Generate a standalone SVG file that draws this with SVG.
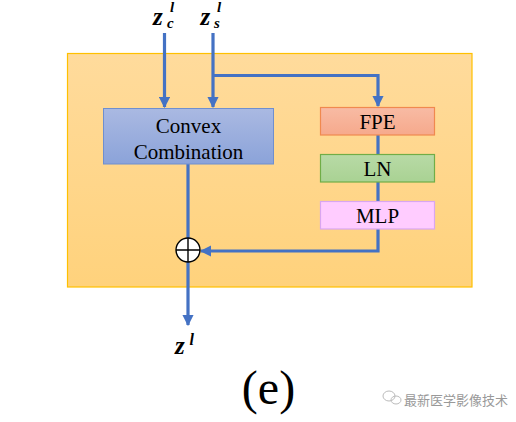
<svg xmlns="http://www.w3.org/2000/svg" width="516" height="422" viewBox="0 0 516 422">
<defs>
<linearGradient id="gBg" x1="0" y1="0" x2="0" y2="1"><stop offset="0" stop-color="#FFDB9C"/><stop offset="1" stop-color="#FFD27C"/></linearGradient>
<linearGradient id="gCC" x1="0" y1="0" x2="0" y2="1"><stop offset="0" stop-color="#AAB9E2"/><stop offset="1" stop-color="#8BA3D9"/></linearGradient>
<linearGradient id="gFPE" x1="0" y1="0" x2="0" y2="1"><stop offset="0" stop-color="#F8BBA4"/><stop offset="1" stop-color="#F6A98C"/></linearGradient>
<linearGradient id="gLN" x1="0" y1="0" x2="0" y2="1"><stop offset="0" stop-color="#B8DAA6"/><stop offset="1" stop-color="#A9D293"/></linearGradient>
<marker id="ah" viewBox="0 0 10 10" refX="9" refY="5" markerWidth="3.6" markerHeight="3.6" orient="auto" markerUnits="strokeWidth"><path d="M0,0 L10,5 L0,10 z" fill="#4472C4"/></marker>
</defs>
<style>
.lbl{font-family:"Liberation Serif","Times New Roman",serif;font-size:21px;fill:#000;text-anchor:middle}
.m{font-family:"Liberation Serif","DejaVu Serif",serif;font-weight:bold;font-style:italic;fill:#000}
.wire{fill:none;stroke:#4472C4;stroke-width:3.2}
</style>
<rect id="background" x="67.5" y="53.5" width="404.5" height="233.5" fill="url(#gBg)" stroke="#FFC000" stroke-width="1.2"/>
<g id="connectors">
<path class="wire" d="M164.5,33 V107" marker-end="url(#ah)"/>
<path class="wire" d="M213,33 V107" marker-end="url(#ah)"/>
<path class="wire" d="M213,75.5 H378 V106" marker-end="url(#ah)"/>
<path class="wire" d="M378,135 V154 M378,182 V201"/>
<path class="wire" d="M378,229 V251 H201" marker-end="url(#ah)"/>
<path class="wire" d="M188,164 V238"/>
<path class="wire" d="M188,262 V325" marker-end="url(#ah)"/>
</g>
<g id="convex">
<rect x="103.5" y="108.5" width="170" height="55.5" fill="url(#gCC)" stroke="#6F8FCF" stroke-width="1"/>
<text class="lbl" x="188.5" y="133">Convex</text>
<text class="lbl" x="188.5" y="159">Combination</text>
</g>
<g id="fpe">
<rect x="320.5" y="107.5" width="114" height="27.5" fill="url(#gFPE)" stroke="#F0894F" stroke-width="1.2"/>
<text class="lbl" x="377.5" y="128.5">FPE</text>
</g>
<g id="ln">
<rect x="320.5" y="154.5" width="114" height="27.5" fill="url(#gLN)" stroke="#70AD47" stroke-width="1.2"/>
<text class="lbl" x="377.5" y="175.5">LN</text>
</g>
<g id="mlp">
<rect x="320.5" y="201.5" width="114" height="27.5" fill="#FFCCFF" stroke="#D9A6F0" stroke-width="1.2"/>
<text class="lbl" x="377.5" y="222.5">MLP</text>
</g>
<g id="add">
<circle cx="188" cy="250" r="12" fill="#fff" stroke="#000" stroke-width="1.4"/>
<path d="M176,250 H200 M188,238 V262" stroke="#000" stroke-width="1.4"/>
</g>
<g id="labels">
<text class="m" x="153" y="25" font-size="25">z</text>
<text class="m" x="170" y="12" font-size="15">l</text>
<text class="m" x="167" y="28" font-size="15">c</text>
<text class="m" x="200.5" y="25" font-size="25">z</text>
<text class="m" x="217" y="12" font-size="15">l</text>
<text class="m" x="214" y="28" font-size="15">s</text>
<text class="m" x="175" y="354" font-size="25">z</text>
<text class="m" x="189.5" y="345" font-size="16">l</text>
<text x="268.5" y="404" font-family="'Liberation Serif', serif" font-size="48" text-anchor="middle" fill="#000">(e)</text>
</g>
<g id="watermark" fill="none" stroke="#BBBBBB" stroke-width="1">
<ellipse cx="389" cy="396" rx="6" ry="5"/>
<ellipse cx="396" cy="400" rx="5" ry="4"/>
<text x="404" y="405" font-family="'Noto Sans CJK SC', sans-serif" font-size="13" fill="#999" stroke="none">最新医学影像技术</text>
</g>
</svg>
